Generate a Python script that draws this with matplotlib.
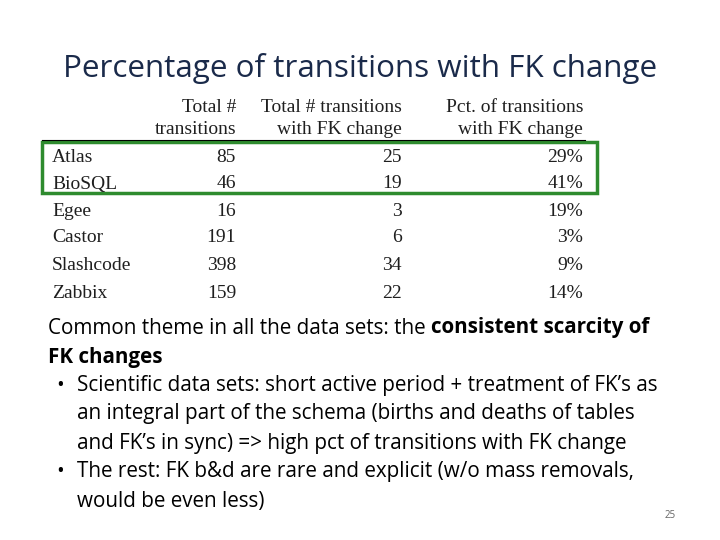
import matplotlib
matplotlib.use("Agg")
import matplotlib.pyplot as plt
from matplotlib.patches import Rectangle

datasets = ["Atlas", "BioSQL", "Egee", "Castor", "Slashcode", "Zabbix"]
total_transitions = [85, 46, 16, 191, 398, 159]
fk_transitions = [25, 19, 3, 6, 34, 22]
pct_fk = [29, 41, 19, 3, 9, 14]
headers = [("Total #", "transitions"), ("Total # transitions", "with FK change"), ("Pct. of transitions", "with FK change")]

W, H = 720, 540
fig = plt.figure(figsize=(7.2, 5.4), dpi=100)
fig.patch.set_facecolor("white")

def P(x, y):
    return x / W, 1 - y / H

sans = "Open Sans"
serif = "Liberation Serif"
tc = "#1f1f1f"
tfs = 14

fig.text(*P(360, 68), "Percentage of transitions with FK change", ha="center", va="center",
         fontsize=22.6, family=sans, color="#1a2a4a")

colx = [236, 402, 583]
for (l1, l2), x in zip(headers, colx):
    fig.text(*P(x, 108), l1, ha="right", va="center", fontsize=tfs, family=serif, color=tc)
    fig.text(*P(x, 129), l2, ha="right", va="center", fontsize=tfs, family=serif, color=tc)

fig.add_artist(plt.Line2D([42/W, 585/W], [1-140/H, 1-140/H], color="black", lw=0.8))

rows_y = [157, 184, 211, 238, 266, 293]
for name, a, b, p, y in zip(datasets, total_transitions, fk_transitions, pct_fk, rows_y):
    fig.text(*P(52, y), name, ha="left", va="center", fontsize=tfs, family=serif, color=tc)
    fig.text(*P(colx[0], y), str(a), ha="right", va="center", fontsize=tfs, family=serif, color=tc)
    fig.text(*P(colx[1], y), str(b), ha="right", va="center", fontsize=tfs, family=serif, color=tc)
    fig.text(*P(colx[2], y), f"{p}%", ha="right", va="center", fontsize=tfs, family=serif, color=tc)

fig.add_artist(Rectangle((42/W, 1-193/H), (597-42)/W, (193-142)/H, fill=False,
                         edgecolor="#2e8b2e", lw=2.5))

fs = 14.9
r = fig.canvas.get_renderer()
def line(x, y, parts):
    cx = x
    for s, bold in parts:
        tt = fig.text(*P(cx, y), s, ha="left", va="center", fontsize=fs, family=sans,
                      weight="bold" if bold else "normal", color="black")
        cx += tt.get_window_extent(renderer=r).width

line(48, 328, [("Common theme in all the data sets: the ", False), ("consistent scarcity of", True)])
line(48, 357, [("FK changes", True)])
for by in (386, 472):
    fig.text(*P(60, by), "•", ha="center", va="center", fontsize=fs, family=sans)
line(77, 386, [("Scientific data sets: short active period + treatment of FK’s as", False)])
line(77, 414, [("an integral part of the schema (births and deaths of tables", False)])
line(77, 443, [("and FK’s in sync) => high pct of transitions with FK change", False)])
line(77, 472, [("The rest: FK b&d are rare and explicit (w/o mass removals,", False)])
line(77, 501, [("would be even less)", False)])

fig.text(*P(670, 515), "25", ha="center", va="center", fontsize=7, family=sans, color="#666666")

fig.savefig("out.png", dpi=100)
